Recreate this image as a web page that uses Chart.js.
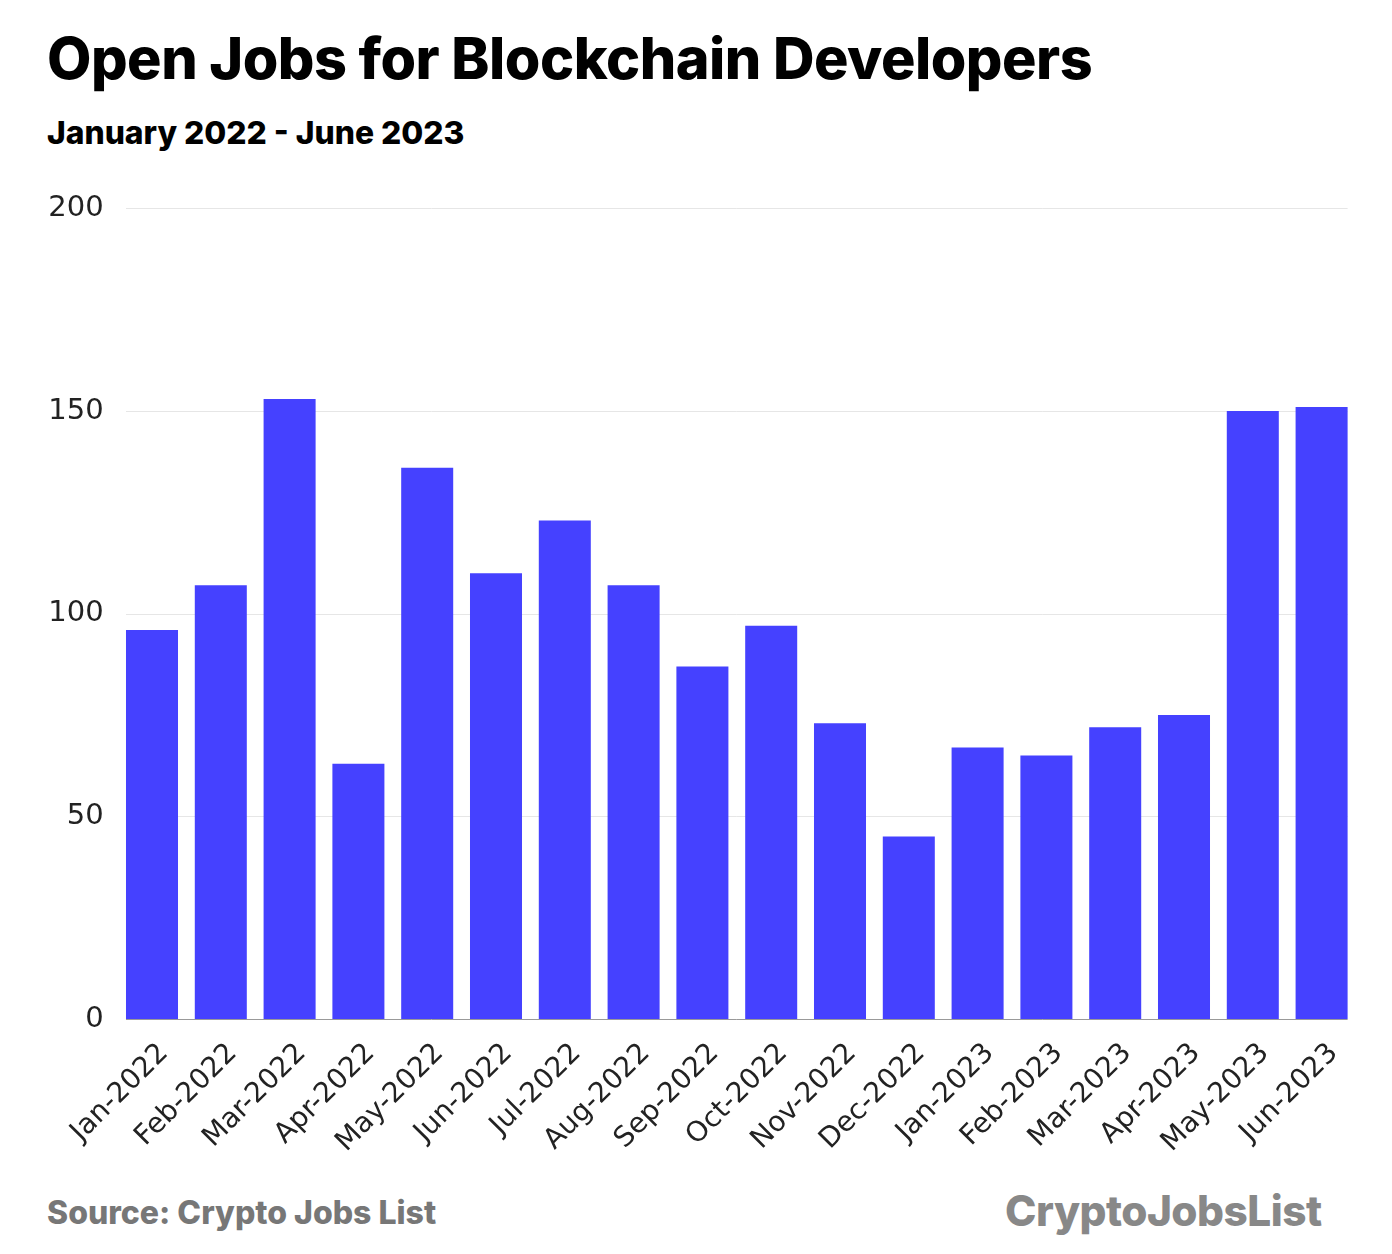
<!DOCTYPE html>
<html>
<head>
<meta charset="utf-8">
<script src="https://cdn.jsdelivr.net/npm/chart.js@4"></script>
<style>
  body { margin: 0; background: #fff; width: 1392px; height: 1254px; position: relative; overflow: hidden; font-family: Inter, sans-serif; }
  .title { position: absolute; left: 47px; top: 23px; font-size: 57.5px; font-weight: 800; color: #000; letter-spacing: -0.5px; white-space: nowrap; }
  .subtitle { position: absolute; left: 47px; top: 113px; font-size: 31.8px; font-weight: 800; color: #000; white-space: nowrap; }
  .source { position: absolute; left: 47px; top: 1193px; font-size: 32px; font-weight: 800; color: #777; white-space: nowrap; }
  .logo { position: absolute; left: 1005px; top: 1185px; font-size: 42.3px; font-weight: 800; color: #888; white-space: nowrap; letter-spacing: -0.5px; }
  .chart-container { position: absolute; left: 0; top: 177px; width: 1392px; height: 1003px; }
</style>
</head>
<body>
<div class="title">Open Jobs for Blockchain Developers</div>
<div class="subtitle">January 2022 - June 2023</div>
<div class="chart-container"><canvas id="chart" aria-label="Open jobs for blockchain developers" role="img"></canvas></div>
<div class="source">Source: Crypto Jobs List</div>
<div class="logo">CryptoJobsList</div>
<script>
const MONTHS = [
  'Jan-2022', 'Feb-2022', 'Mar-2022', 'Apr-2022', 'May-2022', 'Jun-2022',
  'Jul-2022', 'Aug-2022', 'Sep-2022', 'Oct-2022', 'Nov-2022', 'Dec-2022',
  'Jan-2023', 'Feb-2023', 'Mar-2023', 'Apr-2023', 'May-2023', 'Jun-2023',
];
const OPEN_JOBS = [96, 107, 153, 63, 136, 110, 123, 107, 87, 97, 73, 45, 67, 65, 72, 75, 150, 151];
const Y_TICKS = [0, 50, 100, 150, 200];

// grid lines only span the bars, like the original
const gridPlugin = {
  id: 'barGrid',
  beforeDatasetsDraw(chart) {
    const { ctx } = chart;
    const yScale = chart.scales.y;
    const bars = chart.getDatasetMeta(0).data;
    const first = bars[0];
    const last = bars[bars.length - 1];
    const left = first.x - first.width / 2;
    const right = last.x + last.width / 2;
    ctx.save();
    ctx.lineWidth = 1;
    ctx.strokeStyle = '#e6e6e6';
    Y_TICKS.slice(1).forEach((v) => {
      const y = Math.round(yScale.getPixelForValue(v)) + 0.5;
      ctx.beginPath();
      ctx.moveTo(left, y);
      ctx.lineTo(right, y);
      ctx.stroke();
    });
    ctx.restore();
  },
  afterDatasetsDraw(chart) {
    const { ctx } = chart;
    const bars = chart.getDatasetMeta(0).data;
    const first = bars[0];
    const last = bars[bars.length - 1];
    const y = Math.round(chart.scales.y.getPixelForValue(0)) + 0.5;
    ctx.save();
    ctx.strokeStyle = '#999';
    ctx.lineWidth = 1;
    ctx.beginPath();
    ctx.moveTo(first.x - first.width / 2, y);
    ctx.lineTo(last.x + last.width / 2, y);
    ctx.stroke();
    ctx.restore();
  },
};

new Chart(document.getElementById('chart'), {
  type: 'bar',
  data: {
    labels: MONTHS,
    datasets: [{
      data: OPEN_JOBS,
      backgroundColor: '#4541ff',
      categoryPercentage: 1,
      barPercentage: 0.756,
    }],
  },
  options: {
    responsive: true,
    maintainAspectRatio: false,
    animation: false,
    layout: { padding: { top: 3, right: 36, left: 0, bottom: 0 } },
    plugins: { legend: { display: false }, tooltip: { enabled: false } },
    scales: {
      x: {
        grid: { display: false },
        border: { display: false },
        ticks: {
          minRotation: 45,
          maxRotation: 45,
          autoSkip: false,
          padding: 10,
          labelOffset: 12,
          color: '#222',
          font: { family: 'DejaVu Sans', size: 28 },
        },
        afterFit: (scale) => { scale.height = 161; },
      },
      y: {
        min: 0,
        max: 200,
        grid: { display: false, drawTicks: false },
        border: { display: false },
        ticks: {
          stepSize: 50,
          padding: 14,
          color: '#222',
          font: { family: 'DejaVu Sans', size: 29 },
        },
        afterFit: (scale) => { scale.width = 117.6; },
      },
    },
  },
  plugins: [gridPlugin],
});
</script>
</body>
</html>
